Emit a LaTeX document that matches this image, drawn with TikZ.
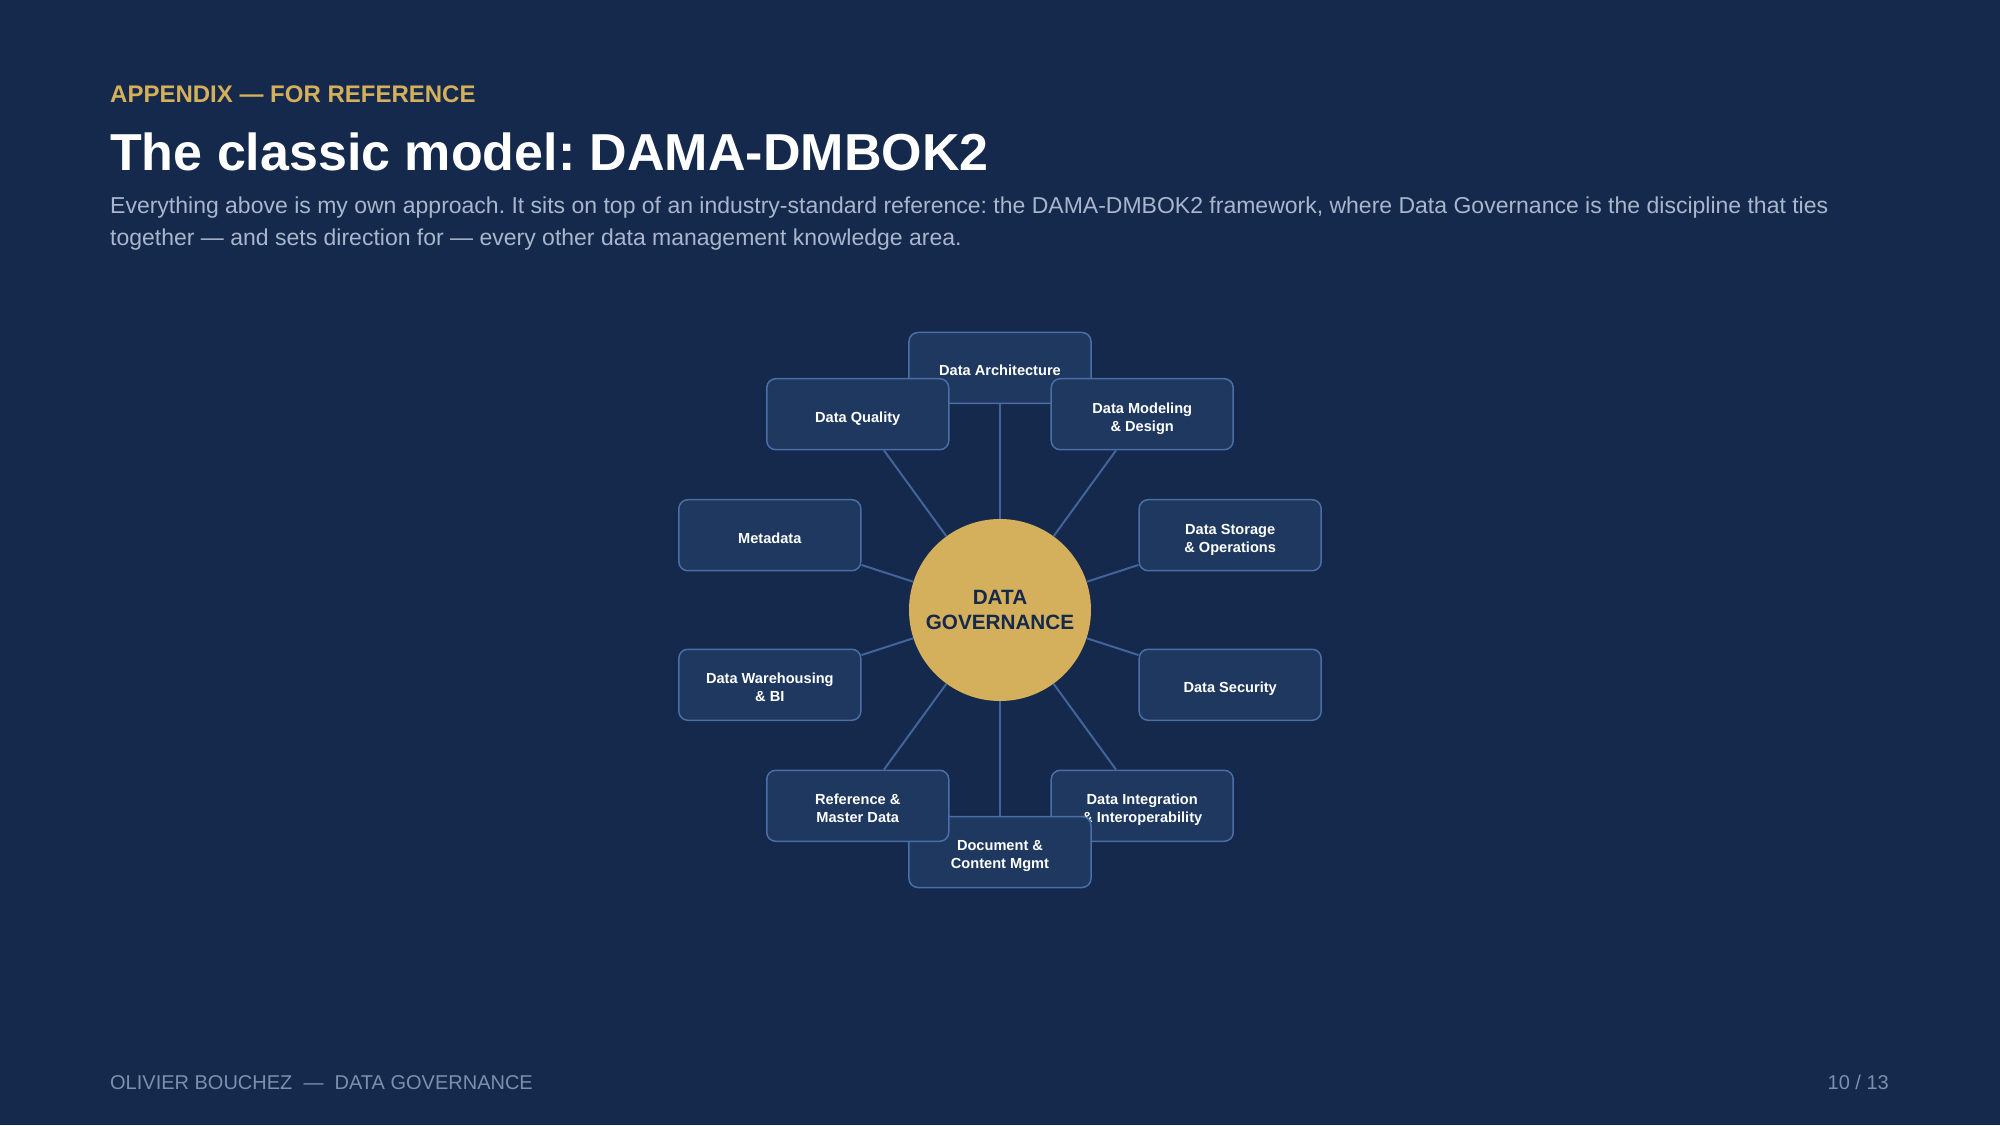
\documentclass[tikz,border=0pt]{standalone}
\usepackage{fontspec}
\setmainfont{Liberation Sans}
\definecolor{navy}{HTML}{14294B}
\definecolor{cardfill}{HTML}{1E3860}
\definecolor{cardline}{HTML}{4A6EA8}
\definecolor{spokeblue}{HTML}{41649C}
\definecolor{gold}{HTML}{D4AF5C}
\definecolor{muted}{HTML}{A9B6CC}
\definecolor{footgray}{HTML}{7D8FAE}
\frenchspacing
\begin{document}
\begin{tikzpicture}[x=1pt,y=1pt,
    area/.style={draw=cardline,line width=1.5pt,fill=cardfill,rounded corners=9pt,
        minimum width=182pt,minimum height=71pt,align=center,text=white,
        font=\fontsize{14.6}{18}\selectfont\bfseries,
        execute at begin node={\rule{0pt}{19pt}},
        execute at end node={\rule[-3pt]{0pt}{3pt}}},
    twoline/.style={execute at begin node={\rule{0pt}{37pt}}},
    hub/.style={circle,fill=gold,minimum size=182pt,inner sep=0pt,align=center,
        text=navy,font=\fontsize{20.7}{25}\selectfont\bfseries},
    spoke/.style={draw=spokeblue,line width=2pt}]
    \fill[navy] (-1000,-515) rectangle (1000,610);
    \useasboundingbox (-1000,-515) rectangle (1000,610);

    \node[anchor=base west,inner sep=0pt,text=gold,font=\fontsize{24}{28}\selectfont\bfseries] (kicker) at (-890,507.5) {APPENDIX — FOR REFERENCE};
    \node[anchor=base west,inner sep=0pt,text=white,font=\fontsize{52}{60}\selectfont\bfseries] (title) at (-890,439) {The classic model: DAMA-DMBOK2};
    \node[anchor=base west,inner sep=0pt,align=left,text=muted,font=\fontsize{23}{32}\selectfont] (lead) at (-890,364) {Everything above is my own approach. It sits on top of an industry-standard reference: the DAMA-DMBOK2 framework, where Data Governance is the discipline that ties\\together — and sets direction for — every other data management knowledge area.};

    \node[area] (arch) at (90:242) {Data Architecture};
    \node[area,twoline] (model) at (54:242) {Data Modeling\\\& Design};
    \node[area,twoline] (store) at (18:242) {Data Storage\\\& Operations};
    \node[area] (secu) at (-18:242) {Data Security};
    \node[area,twoline] (integ) at (-54:242) {Data Integration\\\& Interoperability};
    \node[area,twoline] (docs) at (-90:242) {Document \&\\Content Mgmt};
    \node[area,twoline] (refm) at (-126:242) {Reference \&\\Master Data};
    \node[area,twoline] (dwbi) at (-162:242) {Data Warehousing\\\& BI};
    \node[area] (meta) at (162:242) {Metadata};
    \node[area] (qual) at (126:242) {Data Quality};

    \node[hub] (gov) at (0,0) {DATA\\GOVERNANCE};

    \draw[spoke] (gov) -- (arch);
    \draw[spoke] (gov) -- (model);
    \draw[spoke] (gov) -- (store);
    \draw[spoke] (gov) -- (secu);
    \draw[spoke] (gov) -- (integ);
    \draw[spoke] (gov) -- (docs);
    \draw[spoke] (gov) -- (refm);
    \draw[spoke] (gov) -- (dwbi);
    \draw[spoke] (gov) -- (meta);
    \draw[spoke] (gov) -- (qual);

    \node[anchor=base west,inner sep=0pt,text=footgray,font=\fontsize{20}{24}\selectfont] (byline) at (-890,-479) {OLIVIER BOUCHEZ\ \ —\ \ DATA GOVERNANCE};
    \node[anchor=base east,inner sep=0pt,text=footgray,font=\fontsize{20}{24}\selectfont] (pageno) at (889,-479) {10 / 13};
\end{tikzpicture}
\end{document}
